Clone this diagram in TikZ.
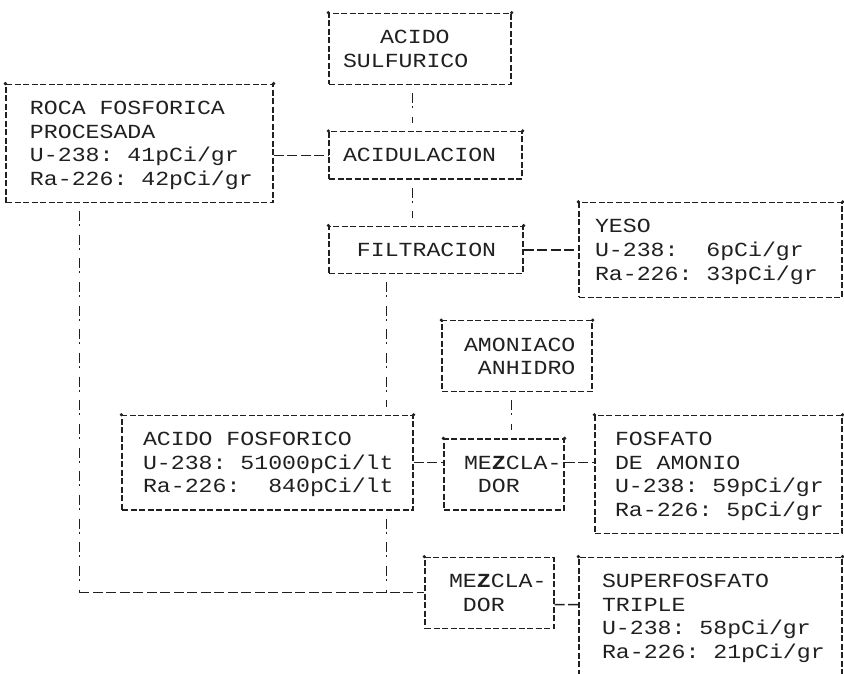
\documentclass[tikz,border=0pt]{standalone}
\usepackage{fontspec}
\newfontfamily\maquina[FakeStretch=1.16]{Liberation Mono}
\definecolor{tinta}{HTML}{202020}
\newcommand{\fila}{\rule[-5.25pt]{0pt}{23.65pt}}
\newcommand{\letramaq}{\maquina\fontsize{20}{23.65}\selectfont\frenchspacing}
\begin{document}
\begin{tikzpicture}[
        x=1pt, y=-1pt,
        caja/.style={draw=tinta, line width=1.3pt, dash pattern=on 6pt off 2.5pt,
            inner xsep=0pt, inner ysep=0pt, align=flush left, text=tinta, font=\letramaq,
            execute at begin node={\leftskip=#1\relax\spaceskip=13.92pt\relax\fila},
            execute at end node=\fila},
        caja/.default=21pt,
        enlace/.style={draw=tinta, line width=1.3pt, dash pattern=on 10pt off 3.5pt}, % horizontal ---
        bajada/.style={draw=tinta, line width=1.5pt, dash pattern=on 10pt off 3pt on 2pt off 8.65pt,
            shorten <=8pt, shorten >=8pt} % vertical ! ! !
    ]
    \useasboundingbox (0,0) rectangle (844,674);

    % --- Cajas ---
    \node[caja=14pt, text width=182pt, minimum height=70.95pt] (sulf) at (420,48.8)
        {\hspace*{37pt}ACIDO\\SULFURICO};
    \node[caja=24pt, text width=267pt, minimum height=118.25pt] (roca) at (139.5,143.4)
        {ROCA FOSFORICA\\PROCESADA\\U-238: 41pCi/gr\\Ra-226: 42pCi/gr};
    \node[caja=14pt, text width=193pt, minimum height=47.3pt] (acidul) at (425.5,155.25)
        {ACIDULACION};
    \node[caja=14pt, text width=194pt, minimum height=47.3pt] (filt) at (426,249.85)
        {~FILTRACION};
    \node[caja=16pt, text width=263pt, minimum height=94.6pt] (yeso) at (710.5,249.85)
        {YESO\\U-238:~~6pCi/gr\\Ra-226:~33pCi/gr};
    \node[caja=22pt, text width=150pt, minimum height=70.95pt] (amon) at (517,356.3)
        {AMONIACO\\~ANHIDRO};
    \node[caja, text width=291pt, minimum height=94.6pt] (afosf) at (267.5,462.7)
        {ACIDO FOSFORICO\\U-238: 51000pCi/lt\\Ra-226:~~840pCi/lt};
    \node[caja=20pt, text width=120pt, minimum height=70.95pt] (mezc1) at (504,474.5)
        {ME{\bfseries Z}CLA-\\~DOR};
    \node[caja=20pt, text width=247pt, minimum height=118.25pt] (fosfato) at (718.5,474.5)
        {FOSFATO\\DE AMONIO\\U-238: 59pCi/gr\\Ra-226: 5pCi/gr};
    \node[caja=24pt, text width=129pt, minimum height=70.95pt] (mezc2) at (489.5,592.8)
        {ME{\bfseries Z}CLA-\\~DOR};
    \node[caja=23pt, text width=263pt, minimum height=118.25pt] (super) at (710.5,616.4)
        {SUPERFOSFATO\\TRIPLE\\U-238: 58pCi/gr\\Ra-226: 21pCi/gr};

    % puntos de las esquinas
    \foreach \c in {sulf,roca,acidul,filt,yeso,amon,afosf,mezc1,fosfato,super}
        \fill[tinta] (\c.north west) circle (1.8pt) (\c.north east) circle (1.8pt);
    \fill[tinta] (mezc2.north west) circle (1.8pt);

    % --- Enlaces ---
    \draw[bajada] ([xshift=84pt]sulf.south west) -- ([xshift=84pt]acidul.north west);
    \draw[enlace] (roca.east |- acidul.west) -- (acidul.west);
    \draw[bajada] ([xshift=84pt]acidul.south west) -- ([xshift=84pt]filt.north west);
    \draw[enlace] (filt.east) -- (yeso.west);
    \draw[bajada] ([xshift=58pt]filt.south west) -- ([xshift=265pt]afosf.north west);
    \draw[bajada] ([xshift=70pt]amon.south west) -- ([xshift=68pt]mezc1.north west);
    \draw[enlace] (afosf.east) -- (afosf.east -| mezc1.west);
    \draw[enlace] (mezc1.east |- afosf.east) -- (fosfato.west |- afosf.east);
    \draw[enlace] ([yshift=-11.8pt]mezc2.east) -- ([yshift=11.8pt]super.west);

    % bajadas hacia el segundo mezclador
    \path ([xshift=74pt]roca.south west) coordinate (r0) |- coordinate[pos=.5] (esq1) (mezc2.west);
    \path ([xshift=265pt]afosf.south west) coordinate (f0) |- coordinate[pos=.5] (esq2) (mezc2.west);
    \draw[bajada, shorten >=0pt] (r0) -- (esq1);
    \draw[bajada, shorten >=0pt] (f0) -- (esq2);
    \draw[enlace] (esq1) -- (mezc2.west);

\end{tikzpicture}
\end{document}
